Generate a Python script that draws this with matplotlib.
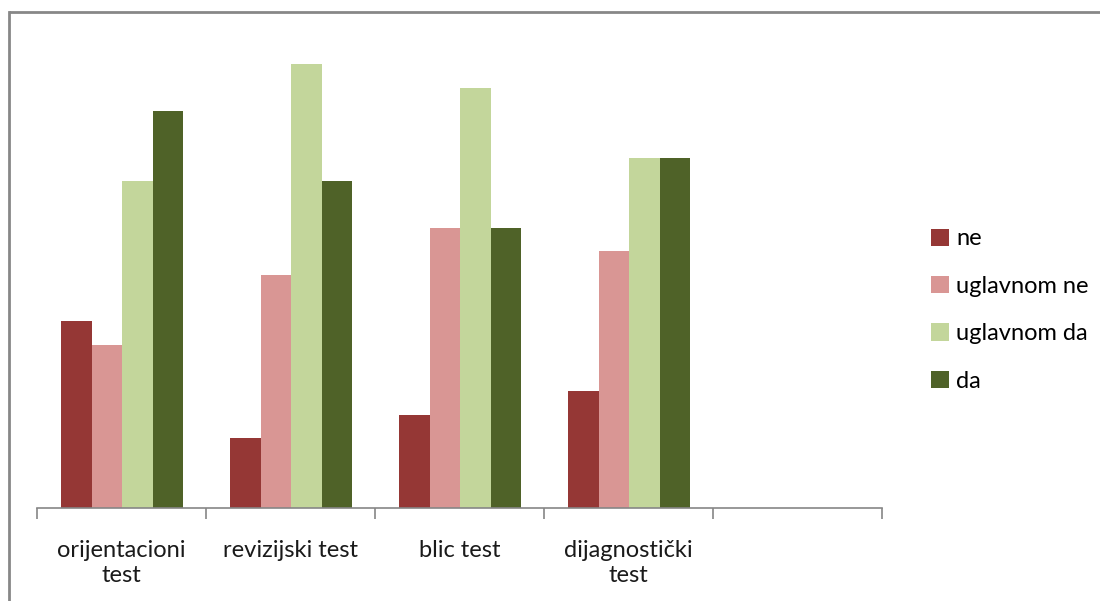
import matplotlib
matplotlib.use('Agg')
import matplotlib.pyplot as plt
from matplotlib.lines import Line2D
import numpy as np

plt.rcParams['font.family'] = ['Lato', 'DejaVu Sans']

# data
categories = ['orijentacioni\ntest', 'revizijski test', 'blic test', 'dijagnostički\ntest', '']
series = ['ne', 'uglavnom ne', 'uglavnom da', 'da']
ne = [8, 3, 4, 5]
uglavnom_ne = [7, 10, 12, 11]
uglavnom_da = [14, 19, 18, 15]
da = [17, 14, 12, 15]
colors = ['#953735', '#D99694', '#C3D69B', '#4F6228']

values = [ne, uglavnom_ne, uglavnom_da, da]

fig = plt.figure(figsize=(11, 6.01), dpi=100)
ax = fig.add_axes([37/1100, 1 - 508/601, (882-37)/1100, (508-41)/601])

w = 0.181
offsets = [-1.5*w, -0.5*w, 0.5*w, 1.5*w]
x = np.arange(len(ne))
for vals, off, c, name in zip(values, offsets, colors, series):
    ax.bar(x + off + 0.004, vals, width=w, color=c, label=name, linewidth=0)

ax.set_xlim(-0.5, len(categories) - 0.5)
ax.set_ylim(0, 20)
ax.set_yticks([])
for s in ['top', 'right', 'left']:
    ax.spines[s].set_visible(False)
ax.spines['bottom'].set_color('#868686')
ax.spines['bottom'].set_linewidth(1.2)

ax.set_xticks(np.arange(len(categories)))
ax.set_xticklabels(categories, fontsize=17, color='#1a1a1a', linespacing=1.25)
ax.tick_params(axis='x', which='major', length=0, pad=23)
ax.set_xticks(np.arange(-0.5, len(categories)), minor=True)
ax.tick_params(axis='x', which='minor', length=8, width=1.2, color='#868686')

leg = ax.legend(loc='upper left', bbox_to_anchor=(922/1100, 1 - 219/601),
                bbox_transform=fig.transFigure, frameon=False, fontsize=17,
                handlelength=0.75, handleheight=0.75, handletextpad=0.3,
                labelspacing=1.12, borderaxespad=0)

# outer chart border (left and top edges only visible)
fig.add_artist(Line2D([8.5/1100, 8.5/1100], [0, 1 - 12/601], transform=fig.transFigure,
                      color='#878787', linewidth=2, solid_capstyle='projecting'))
fig.add_artist(Line2D([8.5/1100, 1], [1 - 12/601, 1 - 12/601], transform=fig.transFigure,
                      color='#878787', linewidth=2, solid_capstyle='butt'))

plt.savefig('out.png', dpi=100)
plt.close()
